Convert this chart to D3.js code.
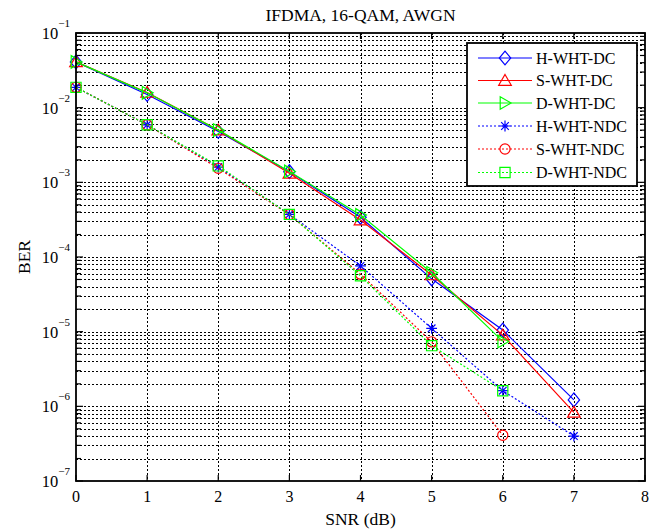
<!DOCTYPE html>
<html>
<head>
<meta charset="utf-8">
<script src="https://cdn.jsdelivr.net/npm/d3@7"></script>
<style>
  html, body { margin: 0; padding: 0; background: #fff; }
  svg { display: block; }
  text { font-family: "Liberation Serif", "Times New Roman", serif; fill: #000; }
</style>
</head>
<body>
<svg id="chart" width="661" height="529"></svg>
<script>
// ---- Data ----
const snr = [0, 1, 2, 3, 4, 5, 6, 7];
const hWhtDc  = [0.041, 0.0150, 0.0048, 0.00139, 0.00034, 5.1e-5, 1.05e-5, 1.22e-6];
const sWhtDc  = [0.041, 0.0160, 0.0050, 0.00132, 0.000313, 5.75e-5, 9.0e-6, 8.3e-7];
const dWhtDc  = [0.041, 0.0158, 0.0050, 0.00140, 0.000366, 6.15e-5, 7.4e-6];
const hWhtNdc = [0.0187, 0.0059, 0.00160, 0.000373, 7.6e-5, 1.11e-5, 1.62e-6, 4.0e-7];
const sWhtNdc = [0.0187, 0.0059, 0.00154, 0.000370, 5.9e-5, 7.3e-6, 4.1e-7];
const dWhtNdc = [0.0187, 0.0059, 0.00166, 0.000372, 5.6e-5, 6.5e-6, 1.62e-6];
const seriesNames = ["H-WHT-DC", "S-WHT-DC", "D-WHT-DC", "H-WHT-NDC", "S-WHT-NDC", "D-WHT-NDC"];
const seriesValues = [hWhtDc, sWhtDc, dWhtDc, hWhtNdc, sWhtNdc, dWhtNdc];
const seriesColors = ["#0000ff", "#ff0000", "#00ff00", "#0000ff", "#ff0000", "#00ff00"];
const seriesMarkers = ["diamond", "triangleUp", "triangleRight", "star", "circle", "square"];
const seriesDotted = [false, false, false, true, true, true];
const xTicks = [0, 1, 2, 3, 4, 5, 6, 7, 8];
const yDecades = [-7, -6, -5, -4, -3, -2, -1];
const titleText = "IFDMA, 16-QAM, AWGN";
const xLabel = "SNR (dB)";
const yLabel = "BER";

// ---- Layout ----
const svg = d3.select("#chart");
const L = 76, R = 645, T = 33, B = 481;
const x = d3.scaleLinear().domain([0, 8]).range([L, R]);
const y = d3.scaleLog().domain([1e-7, 1e-1]).range([B, T]);

// grid
const grid = svg.append("g").attr("stroke", "#000").attr("stroke-width", 1)
  .attr("shape-rendering", "crispEdges")
  .attr("stroke-dasharray", "2,2").attr("fill", "none");
const minorVals = [];
for (let d = -7; d < -1; d++) for (let m = 1; m <= 9; m++) minorVals.push(m * Math.pow(10, d));
minorVals.push(1e-1);
minorVals.forEach(v => {
  if (v <= 1e-7 * 1.0001 || v >= 1e-1 * 0.9999) return;
  grid.append("line").attr("x1", L).attr("x2", R).attr("y1", Math.round(y(v)) + 0.5).attr("y2", Math.round(y(v)) + 0.5);
});
xTicks.forEach(t => {
  if (t === 0 || t === 8) return;
  grid.append("line").attr("x1", Math.round(x(t)) + 0.5).attr("x2", Math.round(x(t)) + 0.5).attr("y1", T).attr("y2", B);
});

// ticks (inward)
const ticks = svg.append("g").attr("stroke", "#000").attr("stroke-width", 1.2);
minorVals.forEach(v => {
  const isMajor = Math.abs(Math.log10(v) - Math.round(Math.log10(v))) < 1e-6;
  const len = isMajor ? 7 : 5;
  ticks.append("line").attr("x1", L).attr("x2", L + len).attr("y1", y(v)).attr("y2", y(v));
  ticks.append("line").attr("x1", R).attr("x2", R - len).attr("y1", y(v)).attr("y2", y(v));
});
xTicks.forEach(t => {
  ticks.append("line").attr("x1", x(t)).attr("x2", x(t)).attr("y1", B).attr("y2", B - 6);
  ticks.append("line").attr("x1", x(t)).attr("x2", x(t)).attr("y1", T).attr("y2", T + 6);
});

// markers
function markerPath(type, s) {
  const h = s / 2;
  switch (type) {
    case "diamond": return `M0,${-h*1.15}L${h*0.95},0L0,${h*1.15}L${-h*0.95},0Z`;
    case "triangleUp": return `M0,${-h}L${h*1.05},${h*0.8}L${-h*1.05},${h*0.8}Z`;
    case "triangleRight": return `M${h},0L${-h*0.8},${-h*1.05}L${-h*0.8},${h*1.05}Z`;
    case "square": return `M${-h*0.85},${-h*0.85}H${h*0.85}V${h*0.85}H${-h*0.85}Z`;
    case "circle": { const r = h*0.85; return `M${r},0A${r},${r} 0 1,1 ${-r},0A${r},${r} 0 1,1 ${r},0Z`; }
    case "star": {
      const r = h*0.9; let p = "";
      for (let i = 0; i < 4; i++) {
        const a = i * Math.PI / 4;
        p += `M${r*Math.cos(a)},${r*Math.sin(a)}L${-r*Math.cos(a)},${-r*Math.sin(a)}`;
      }
      return p;
    }
  }
}

// data lines
const line = d3.line().x((d, i) => x(snr[i])).y(d => y(d));
const dataG = svg.append("g");
seriesValues.forEach((vals, si) => {
  const g = dataG.append("g");
  g.append("path").attr("d", line(vals)).attr("fill", "none")
    .attr("stroke", seriesColors[si]).attr("stroke-width", 1.2)
    .attr("stroke-dasharray", seriesDotted[si] ? "2,2" : null);
  vals.forEach((v, i) => {
    g.append("path").attr("d", markerPath(seriesMarkers[si], 12))
      .attr("transform", `translate(${x(snr[i])},${y(v)})`)
      .attr("fill", "none").attr("stroke", seriesColors[si]).attr("stroke-width", 1.2);
  });
});

// frame
svg.append("rect").attr("x", L).attr("y", T).attr("width", R - L).attr("height", B - T)
  .attr("fill", "none").attr("stroke", "#000").attr("stroke-width", 1.8);

// y tick labels
yDecades.forEach(d => {
  const t = svg.append("text").attr("x", 70).attr("y", y(Math.pow(10, d)) + 6)
    .attr("text-anchor", "end").style("font-size", "16.5px");
  t.append("tspan").text("10");
  t.append("tspan").attr("dy", -12).style("font-size", "11px").text("\u2212" + Math.abs(d));
});

// x tick labels
xTicks.forEach(tk => {
  svg.append("text").attr("x", x(tk)).attr("y", 502).attr("text-anchor", "middle")
    .style("font-size", "16px").text(tk);
});

// titles
svg.append("text").attr("x", (L + R) / 2).attr("y", 21).attr("text-anchor", "middle")
  .style("font-size", "17.5px").text(titleText);
svg.append("text").attr("x", (L + R) / 2).attr("y", 525).attr("text-anchor", "middle")
  .style("font-size", "17.5px").text(xLabel);
svg.append("text").attr("transform", `translate(30,${(T + B) / 2}) rotate(-90)`)
  .attr("text-anchor", "middle").style("font-size", "17.5px").text(yLabel);

// legend
const lg = svg.append("g");
lg.append("rect").attr("x", 467).attr("y", 43).attr("width", 170).attr("height", 143)
  .attr("fill", "#fff").attr("stroke", "#000").attr("stroke-width", 1.8);
const legYs = [58, 80.5, 103, 126, 149, 172.5];
seriesNames.forEach((name, si) => {
  const ly = legYs[si];
  lg.append("line").attr("x1", 478).attr("x2", 532).attr("y1", ly).attr("y2", ly)
    .attr("stroke", seriesColors[si]).attr("stroke-width", 1.2)
    .attr("stroke-dasharray", seriesDotted[si] ? "2,2" : null);
  lg.append("path").attr("d", markerPath(seriesMarkers[si], 12))
    .attr("transform", `translate(505,${ly})`)
    .attr("fill", "none").attr("stroke", seriesColors[si]).attr("stroke-width", 1.2);
  lg.append("text").attr("x", 536).attr("y", ly + 5.5).style("font-size", "16px").text(name);
});
</script>
</body>
</html>
